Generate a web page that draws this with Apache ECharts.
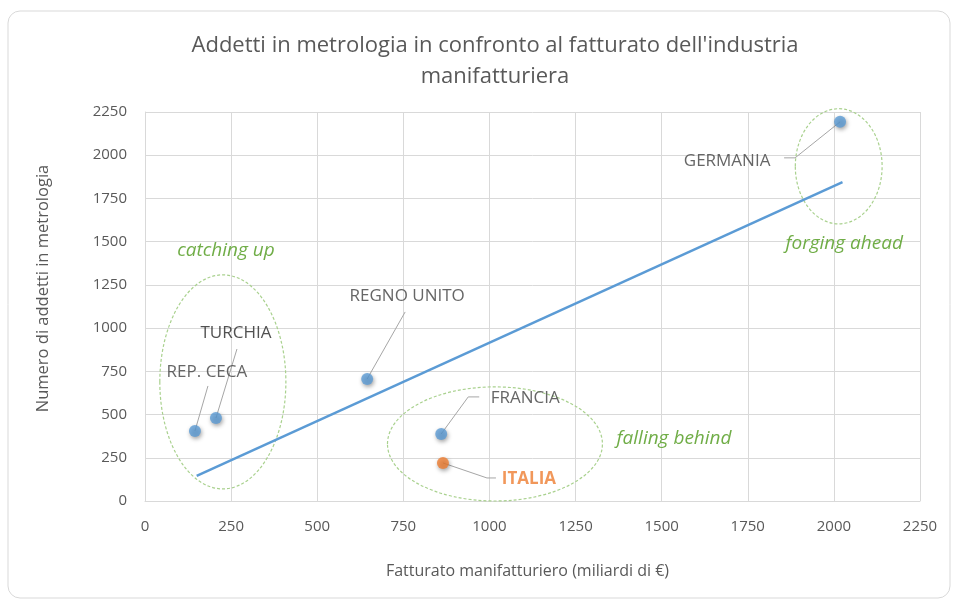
<!DOCTYPE html>
<html>
<head>
<meta charset="utf-8">
<script src="https://cdn.jsdelivr.net/npm/echarts@6/dist/echarts.min.js"></script>
<style>
html,body{margin:0;padding:0;background:#fff;}
#chart{width:958px;height:603px;}
</style>
</head>
<body>
<div id="chart"></div>
<script>
// ---- data ----
var countries = ['REP. CECA', 'TURCHIA', 'REGNO UNITO', 'FRANCIA', 'ITALIA', 'GERMANIA'];
var turnover = [145, 206, 645, 860, 865, 2018];      // miliardi di €
var employees = [405, 480, 706, 388, 220, 2193];     // addetti in metrologia
var trendX = [150, 2025];
var trendY = [145, 1845];
var xTicks = [0, 250, 500, 750, 1000, 1250, 1500, 1750, 2000, 2250];
var yTicks = [0, 250, 500, 750, 1000, 1250, 1500, 1750, 2000, 2250];
var zoneNames = ['catching up', 'falling behind', 'forging ahead'];
// zone ellipses in data units: centre x, centre y, radius x, radius y
var zoneEllipseCX = [226, 1016, 2014];
var zoneEllipseCY = [689, 330, 1936];
var zoneEllipseRX = [183, 312, 126];
var zoneEllipseRY = [619, 330, 333];
var zoneTextX = [235, 1536, 2030];
var zoneTextY = [1447, 359, 1487];

// ---- label placement (pixels, relative to each point) ----
var labelOffsets = [[12, -59], [20, -85], [40, -83], [84, -36], [86, 16], [-113, 39]];
// leader line vertices (pixels, relative to each point)
var leaderPaths = [
  [[0, 0], [13, -45]],
  [[0, 0], [21, -69]],
  [[0, 0], [38, -67]],
  [[0, 0], [27, -37], [38, -37]],
  [[0, 0], [44, 15], [53, 15]],
  [[0, 0], [-45, 36], [-56, 36]]
];

var FONT = '"Open Sans", "Liberation Sans", sans-serif';

var points = countries.map(function (c, i) {
  var item = { name: c, value: [turnover[i], employees[i]], label: { offset: labelOffsets[i] } };
  if (c === 'ITALIA') {
    item.itemStyle = { color: '#ED7D31' };
    item.label.color = '#ED7D31';
    item.label.fontWeight = 'bold';
  }
  if (c === 'TURCHIA') {
    item.label.color = '#262626';
  }
  return item;
});

var zones = zoneNames.map(function (n, i) {
  return [zoneEllipseCX[i], zoneEllipseCY[i], zoneEllipseRX[i], zoneEllipseRY[i], zoneTextX[i], zoneTextY[i]];
});
var leaderData = countries.map(function (c, i) { return [turnover[i], employees[i]]; });

var chart = echarts.init(document.getElementById('chart'), null, { renderer: 'canvas' });

var option = {
  backgroundColor: '#ffffff',
  animation: false,
  textStyle: { fontFamily: FONT },
  title: {
    text: "Addetti in metrologia in confronto al fatturato dell'industria\nmanifatturiera",
    left: 490,
    top: 25,
    textAlign: 'center',
    textStyle: { fontFamily: FONT, fontSize: 22, fontWeight: 'normal', color: '#595959', lineHeight: 31 }
  },
  graphic: [{
    type: 'rect',
    shape: { x: 8, y: 11, width: 942, height: 587, r: 12 },
    style: { fill: 'none', stroke: '#d9d9d9', lineWidth: 1 },
    silent: true,
    z: -10
  }],
  grid: { left: 145, right: 38, top: 112, bottom: 102, containLabel: false },
  xAxis: {
    type: 'value',
    min: xTicks[0],
    max: xTicks[xTicks.length - 1],
    interval: xTicks[1] - xTicks[0],
    name: 'Fatturato manifatturiero (miliardi di €)',
    nameLocation: 'middle',
    nameGap: 62,
    nameTextStyle: { fontFamily: FONT, fontSize: 16, color: '#595959', padding: [0, 10, 0, 0] },
    axisLine: { show: true, lineStyle: { color: '#d9d9d9' } },
    axisTick: { show: false },
    axisLabel: { fontFamily: FONT, fontSize: 15, color: '#595959', margin: 18, formatter: function (v) { return String(v); } },
    splitLine: { show: true, lineStyle: { color: '#d9d9d9' } }
  },
  yAxis: {
    type: 'value',
    min: yTicks[0],
    max: yTicks[yTicks.length - 1],
    interval: yTicks[1] - yTicks[0],
    name: 'Numero di addetti in metrologia',
    nameLocation: 'middle',
    nameGap: 93,
    nameTextStyle: { fontFamily: FONT, fontSize: 16.5, color: '#595959', padding: [0, 0, 0, 36] },
    axisLine: { show: true, lineStyle: { color: '#d9d9d9' } },
    axisTick: { show: false },
    axisLabel: { fontFamily: FONT, fontSize: 15, color: '#595959', margin: 18, formatter: function (v) { return String(v); } },
    splitLine: { show: true, lineStyle: { color: '#d9d9d9' } }
  },
  series: [
    {
      type: 'custom',
      name: 'zones',
      data: zones,
      z: 1,
      silent: true,
      renderItem: function (params, api) {
        var c = api.coord([api.value(0), api.value(1)]);
        var s = api.size([api.value(2), api.value(3)]);
        var t = api.coord([api.value(4), api.value(5)]);
        return {
          type: 'group',
          children: [{
            type: 'ellipse',
            shape: { cx: c[0], cy: c[1], rx: s[0], ry: s[1] },
            style: { fill: 'none', stroke: '#a9d18e', lineWidth: 1.2, lineDash: [3, 2] }
          }, {
            type: 'text',
            x: t[0], y: t[1],
            style: {
              text: zoneNames[params.dataIndex],
              fill: '#70AD47',
              font: 'italic 19px ' + FONT,
              align: 'center',
              verticalAlign: 'middle'
            }
          }]
        };
      }
    },
    {
      type: 'line',
      name: 'trend',
      data: trendX.map(function (x, i) { return [x, trendY[i]]; }),
      showSymbol: false,
      symbol: 'none',
      lineStyle: { color: '#5B9BD5', width: 2.5 },
      z: 2,
      silent: true
    },
    {
      type: 'custom',
      name: 'leaders',
      data: leaderData,
      z: 3,
      silent: true,
      renderItem: function (params, api) {
        var p = api.coord([api.value(0), api.value(1)]);
        var pts = leaderPaths[params.dataIndex].map(function (o) { return [p[0] + o[0], p[1] + o[1]]; });
        return {
          type: 'polyline',
          shape: { points: pts },
          style: { fill: 'none', stroke: '#a6a6a6', lineWidth: 1 }
        };
      }
    },
    {
      type: 'scatter',
      name: 'paesi',
      data: points,
      symbolSize: 12,
      z: 5,
      itemStyle: {
        color: '#5B9BD5',
        shadowBlur: 4,
        shadowColor: 'rgba(0,0,0,0.45)',
        shadowOffsetX: 1,
        shadowOffsetY: 2
      },
      label: {
        show: true,
        position: 'inside',
        formatter: '{b}',
        fontFamily: FONT,
        fontSize: 17,
        color: '#404040'
      }
    }
  ]
};
chart.setOption(option);
</script>
</body>
</html>
